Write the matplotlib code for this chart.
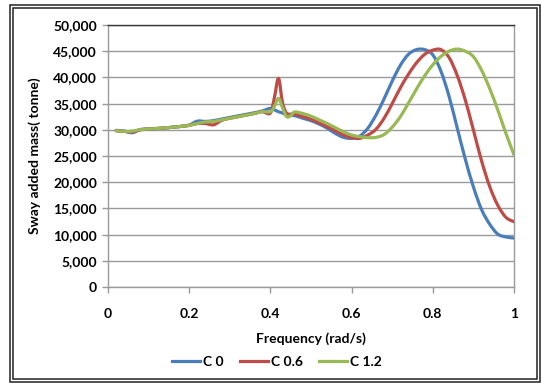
import numpy as np
import matplotlib
matplotlib.use("Agg")
import matplotlib.pyplot as plt
from matplotlib.path import Path
from matplotlib.patches import PathPatch, Rectangle
from matplotlib.lines import Line2D
from matplotlib.ticker import FuncFormatter, MultipleLocator

# Frequency grid (rad/s)
freq = [0.02, 0.04, 0.06, 0.08, 0.10, 0.12, 0.14, 0.16, 0.18, 0.20,
        0.22, 0.24, 0.26, 0.28, 0.30, 0.32, 0.34, 0.36, 0.38, 0.40,
        0.41, 0.42, 0.43, 0.44, 0.45, 0.46, 0.48, 0.50, 0.52, 0.54,
        0.56, 0.58, 0.60, 0.62, 0.64, 0.66, 0.68, 0.70, 0.72, 0.74,
        0.76, 0.78, 0.80, 0.82, 0.84, 0.86, 0.88, 0.90, 0.92, 0.94,
        0.96, 0.98, 1.00]

# Sway added mass (tonne) for each case
c0 = [29900, 29750, 29450, 30050, 30150, 30250, 30350, 30500, 30650, 30900,
      31650, 31600, 31750, 32050, 32350, 32650, 32950, 33250, 33600, 34100,
      33800, 33450, 33200, 32900, 32800, 32700, 32200, 31750, 31100, 30300,
      29300, 28560, 28370, 28800, 30300, 32800, 35900, 39300, 42300, 44400,
      45300, 45300, 44300, 41200, 36400, 30400, 24400, 19100, 14800, 12000,
      10100, 9550, 9350]

c06 = [29800, 29700, 29600, 30000, 30150, 30250, 30350, 30500, 30650, 30850,
       31200, 31200, 30950, 31800, 32200, 32500, 32800, 33100, 33450, 33200,
       36200, 39800, 35100, 33150, 33000, 32950, 32500, 32000, 31300, 30600,
       29800, 29000, 28500, 28370, 29000, 30100, 32200, 35000, 38000, 40600,
       42800, 44400, 45200, 45300, 43800, 40400, 35700, 29960, 24100, 19200,
       15600, 13300, 12450]

c12 = [29850, 29700, 29750, 30050, 30150, 30250, 30350, 30500, 30650, 30850,
       31200, 31500, 31600, 31900, 32200, 32500, 32800, 33100, 33450, 33450,
       34500, 36000, 34200, 32500, 32700, 33400, 33100, 32600, 31900, 31200,
       30400, 29640, 29000, 28680, 28500, 28550, 29100, 30500, 32500, 35100,
       37800, 40300, 42400, 44000, 45000, 45400, 45000, 43960, 41400, 37900,
       33800, 29350, 25200]

series = [("C 0", c0, "#4A7EBB"), ("C 0.6", c06, "#BE4B48"), ("C 1.2", c12, "#98B954")]

x_ticks = [0, 0.2, 0.4, 0.6, 0.8, 1.0]
x_tick_labels = ["0", "0.2", "0.4", "0.6", "0.8", "1"]

FONT = "Lato"
W, H = 541, 383


def smooth_path(xs, ys):
    """Smoothed polyline through the points (cubic Bezier segments)."""
    p = np.column_stack([xs, ys]).astype(float)
    n = len(p)
    verts = [p[0]]
    codes = [Path.MOVETO]
    for i in range(n - 1):
        p0 = p[i - 1] if i > 0 else p[i]
        p1 = p[i]
        p2 = p[i + 1]
        p3 = p[i + 2] if i + 2 < n else p[i + 1]
        c1 = p1 + (p2 - p0) / 6.0
        c2 = p2 - (p3 - p1) / 6.0
        verts += [c1, c2, p2]
        codes += [Path.CURVE4] * 3
    return Path(verts, codes)


fig = plt.figure(figsize=(W / 100, H / 100), dpi=100)
fig.patch.set_facecolor("white")

# Plot area in pixel box
L, R, T, B = 108, 514, 25, 287
ax = fig.add_axes([L / W, 1 - B / H, (R - L) / W, (B - T) / H])

ax.set_xlim(0, 1)
ax.set_ylim(0, 50000)
ax.yaxis.set_major_locator(MultipleLocator(5000))
ax.yaxis.set_major_formatter(FuncFormatter(lambda v, p: f"{int(v):,}"))
ax.set_xticks(x_ticks)
ax.set_xticklabels(x_tick_labels)

ax.grid(axis="y", color="#9a9a9a", linewidth=1.0)
ax.set_axisbelow(True)

for name, vals, col in series:
    ax.add_patch(PathPatch(smooth_path(freq, vals), facecolor="none",
                           edgecolor=col, linewidth=2.3, capstyle="round",
                           joinstyle="round", zorder=3))

for s in ("left", "bottom", "right"):
    ax.spines[s].set_color("#9a9a9a")
    ax.spines[s].set_linewidth(1.0)
ax.spines["top"].set_color("#333333")
ax.spines["top"].set_linewidth(1.0)

ax.tick_params(axis="both", direction="out", length=4, width=1.0,
               color="#9a9a9a", labelsize=10, pad=4)
ax.tick_params(axis="x", pad=11)
for lab in ax.get_xticklabels() + ax.get_yticklabels():
    lab.set_fontfamily(FONT)
    lab.set_fontweight("bold")

ax.set_xlabel("Frequency (rad/s)", fontsize=10, fontfamily=FONT,
              fontweight="bold", labelpad=9)
ax.set_ylabel("Sway added mass( tonne)", fontsize=10, fontfamily=FONT,
              fontweight="bold", labelpad=9)

handles = [Line2D([], [], color=col, linewidth=2.3) for _, _, col in series]
labels = [name for name, _, _ in series]
leg = fig.legend(handles, labels, loc="center", bbox_to_anchor=(277 / W, 1 - 362 / H),
                 ncol=3, frameon=False, handlelength=2.0, handletextpad=0.2,
                 columnspacing=1.2, prop={"family": FONT, "weight": "bold", "size": 10})

# Double frame around the chart
def frame(x0, y0, x1, y1, lw):
    fig.add_artist(Rectangle((x0 / W, 1 - y1 / H), (x1 - x0) / W, (y1 - y0) / H,
                             transform=fig.transFigure, fill=False,
                             edgecolor="#222222", linewidth=lw))

frame(9.5, 5, 539.5, 381.5, 1.1)
frame(12.5, 8, 536.5, 379, 1.1)

fig.savefig("out.png", dpi=100, facecolor="white")
